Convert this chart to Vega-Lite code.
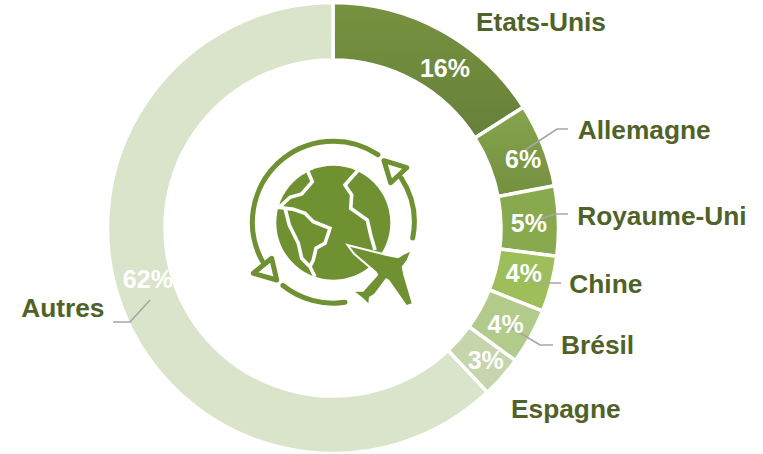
{"$schema":"https://vega.github.io/schema/vega-lite/v6.json","width":666,"height":456,"autosize":"none","padding":{"left":0,"top":0,"right":97,"bottom":0},"background":"white","view":{"stroke":null},
"datasets":{"shares":[{"rank":1,"name":"Etats-Unis","share":16,"label":"16%"},{"rank":2,"name":"Allemagne","share":6,"label":"6%"},{"rank":3,"name":"Royaume-Uni","share":5,"label":"5%"},{"rank":4,"name":"Chine","share":4,"label":"4%"},{"rank":5,"name":"Brésil","share":4,"label":"4%"},{"rank":6,"name":"Espagne","share":3,"label":"3%"},{"rank":7,"name":"Autres","share":62,"label":"62%"}],"one":[{"part":"decor"}]},
"data":{"name":"shares"},
"layer":[
{"mark":{"type":"arc","outerRadius":225.5,"innerRadius":168,"stroke":"white","strokeWidth":3.5},"encoding":{"theta":{"field":"share","type":"quantitative","stack":true,"scale":{"domain":[0,100]}},"order":{"field":"rank"},"fill":{"condition":[{"test":"datum.name==='Etats-Unis'","value":{"gradient":"linear","x1":0,"y1":0,"x2":0,"y2":1,"stops":[{"offset":0,"color":"#77923f"},{"offset":1,"color":"#67803a"}]}},{"test":"datum.name==='Allemagne'","value":{"gradient":"linear","x1":0,"y1":0,"x2":0,"y2":1,"stops":[{"offset":0,"color":"#86a44f"},{"offset":1,"color":"#74903f"}]}}],"field":"name","type":"nominal","legend":null,"scale":{"domain":["Etats-Unis","Allemagne","Royaume-Uni","Chine","Brésil","Espagne","Autres"],"range":["#6e8a3b","#7d9a47","#89a94f","#9dbe59","#b2ca8a","#c6d5ab","#dae4ca"]}}}},
{"data":{"name":"one"},"mark":{"type":"point","shape":"M192 -78L224 -99L235 -99M207 -9L222 -14L235 -14M194 51L209 55L228 55M172 96L207 117L220 117M-183 72L-203 94L-220 94","size":4,"filled":false,"stroke":"#a6a6a6","strokeWidth":1.7,"opacity":1},"encoding":{}},
{"data":{"name":"one"},"mark":{"type":"point","shape":"M44.9 -73.4A81 81 0 0 0 -70.7 33.1M68.3 -49.9A81 81 0 0 1 79.7 10M-50.1 57.5A81 81 0 0 0 12 74.3M51 -67.3L73.7 -60.3L57.7 -45.3ZM-79.7 45.3L-61.3 30.3L-56.3 52Z","size":4,"filled":false,"stroke":"#6f9132","strokeWidth":5,"strokeCap":"round","strokeJoin":"round","opacity":1},"encoding":{}},
{"data":{"name":"one"},"mark":{"type":"point","shape":"M-56.7 -5.3A57 57 0 1 1 57.3 -5.3A57 57 0 1 1 -56.7 -5.3Z","size":4,"filled":true,"fill":"#6f9132","opacity":1},"encoding":{}},
{"data":{"name":"one"},"mark":{"type":"point","shape":"M-25.7 -58L-20.7 -46.3L-31.3 -34L-43 -30.7L-51.3 -23L-54.7 -20.7L-39.7 -18.7L-28 -14.7L-19.7 -6.3L-3 0.3L-8 15.3L-17 20.3L-19.7 32L-23 38.7L-31.3 30.3L-34.7 15.3L-43.7 -3L-48 -19.7M-23 38.7L-18 48.7M25.3 -58L12 -43L18.7 -33L17.7 -19.7L34.3 -8L37.7 7L42 22","size":4,"filled":false,"stroke":"white","strokeWidth":3.6,"opacity":1},"encoding":{}},
{"data":{"name":"one"},"mark":{"type":"point","shape":"M17 18.7L53.7 28L65.3 30.3L70.3 27L77 23.7L73.7 32L68.7 38.7L70.3 47L78.7 75.3L73.7 77L56.3 52L53 50L41 66L36 69L35.3 75.3L30.3 70.3L22 63.7L30.3 63.7L45.3 47L43.7 43.7L22 25.3Z","size":4,"filled":true,"fill":"#6f9132","stroke":"white","strokeWidth":4,"opacity":1},"encoding":{}},
{"data":{"name":"one"},"mark":{"type":"point","shape":"M17 18.7L53.7 28L65.3 30.3L70.3 27L77 23.7L73.7 32L68.7 38.7L70.3 47L78.7 75.3L73.7 77L56.3 52L53 50L41 66L36 69L35.3 75.3L30.3 70.3L22 63.7L30.3 63.7L45.3 47L43.7 43.7L22 25.3Z","size":4,"filled":true,"fill":"#6f9132","opacity":1},"encoding":{}},
{"mark":{"type":"text","radius":197,"dx":17,"dy":13.5,"fontSize":25,"fontWeight":"bold","font":"Liberation Sans","fill":"white"},"encoding":{"theta":{"field":"share","type":"quantitative","stack":true},"order":{"field":"rank"},"text":{"condition":{"test":"datum.name==='Etats-Unis'","field":"label"},"value":""}}},
{"mark":{"type":"text","radius":197,"dx":7,"dy":5,"fontSize":25,"fontWeight":"bold","font":"Liberation Sans","fill":"white"},"encoding":{"theta":{"field":"share","type":"quantitative","stack":true},"order":{"field":"rank"},"text":{"condition":{"test":"datum.name==='Allemagne'","field":"label"},"value":""}}},
{"mark":{"type":"text","radius":197,"dx":-1,"dy":2,"fontSize":25,"fontWeight":"bold","font":"Liberation Sans","fill":"white"},"encoding":{"theta":{"field":"share","type":"quantitative","stack":true},"order":{"field":"rank"},"text":{"condition":{"test":"datum.name==='Royaume-Uni'","field":"label"},"value":""}}},
{"mark":{"type":"text","radius":197,"dx":0,"dy":-3,"fontSize":25,"fontWeight":"bold","font":"Liberation Sans","fill":"white"},"encoding":{"theta":{"field":"share","type":"quantitative","stack":true},"order":{"field":"rank"},"text":{"condition":{"test":"datum.name==='Chine'","field":"label"},"value":""}}},
{"mark":{"type":"text","radius":197,"dx":0,"dy":2,"fontSize":25,"fontWeight":"bold","font":"Liberation Sans","fill":"white"},"encoding":{"theta":{"field":"share","type":"quantitative","stack":true},"order":{"field":"rank"},"text":{"condition":{"test":"datum.name==='Brésil'","field":"label"},"value":""}}},
{"mark":{"type":"text","radius":197,"dx":5,"dy":3,"fontSize":25,"fontWeight":"bold","font":"Liberation Sans","fill":"white"},"encoding":{"theta":{"field":"share","type":"quantitative","stack":true},"order":{"field":"rank"},"text":{"condition":{"test":"datum.name==='Espagne'","field":"label"},"value":""}}},
{"mark":{"type":"text","radius":197,"dx":-2,"dy":-21,"fontSize":25,"fontWeight":"bold","font":"Liberation Sans","fill":"white"},"encoding":{"theta":{"field":"share","type":"quantitative","stack":true},"order":{"field":"rank"},"text":{"condition":{"test":"datum.name==='Autres'","field":"label"},"value":""}}},
{"mark":{"type":"text","radius":197,"dx":113,"dy":-32,"fontSize":26.3,"fontWeight":"bold","font":"Liberation Sans","fill":"#4f6228"},"encoding":{"theta":{"field":"share","type":"quantitative","stack":true},"order":{"field":"rank"},"text":{"condition":{"test":"datum.name==='Etats-Unis'","field":"name"},"value":""}}},
{"mark":{"type":"text","radius":197,"dx":128,"dy":-24.5,"fontSize":26.3,"fontWeight":"bold","font":"Liberation Sans","fill":"#4f6228"},"encoding":{"theta":{"field":"share","type":"quantitative","stack":true},"order":{"field":"rank"},"text":{"condition":{"test":"datum.name==='Allemagne'","field":"name"},"value":""}}},
{"mark":{"type":"text","radius":197,"dx":132,"dy":-5,"fontSize":26.3,"fontWeight":"bold","font":"Liberation Sans","fill":"#4f6228"},"encoding":{"theta":{"field":"share","type":"quantitative","stack":true},"order":{"field":"rank"},"text":{"condition":{"test":"datum.name==='Royaume-Uni'","field":"name"},"value":""}}},
{"mark":{"type":"text","radius":197,"dx":82,"dy":8,"fontSize":26.3,"fontWeight":"bold","font":"Liberation Sans","fill":"#4f6228"},"encoding":{"theta":{"field":"share","type":"quantitative","stack":true},"order":{"field":"rank"},"text":{"condition":{"test":"datum.name==='Chine'","field":"name"},"value":""}}},
{"mark":{"type":"text","radius":197,"dx":92,"dy":23,"fontSize":26.3,"fontWeight":"bold","font":"Liberation Sans","fill":"#4f6228"},"encoding":{"theta":{"field":"share","type":"quantitative","stack":true},"order":{"field":"rank"},"text":{"condition":{"test":"datum.name==='Brésil'","field":"name"},"value":""}}},
{"mark":{"type":"text","radius":197,"dx":85,"dy":52,"fontSize":26.3,"fontWeight":"bold","font":"Liberation Sans","fill":"#4f6228"},"encoding":{"theta":{"field":"share","type":"quantitative","stack":true},"order":{"field":"rank"},"text":{"condition":{"test":"datum.name==='Espagne'","field":"name"},"value":""}}},
{"mark":{"type":"text","radius":197,"dx":-87,"dy":8.5,"fontSize":26.3,"fontWeight":"bold","font":"Liberation Sans","fill":"#4f6228"},"encoding":{"theta":{"field":"share","type":"quantitative","stack":true},"order":{"field":"rank"},"text":{"condition":{"test":"datum.name==='Autres'","field":"name"},"value":""}}}
]}
